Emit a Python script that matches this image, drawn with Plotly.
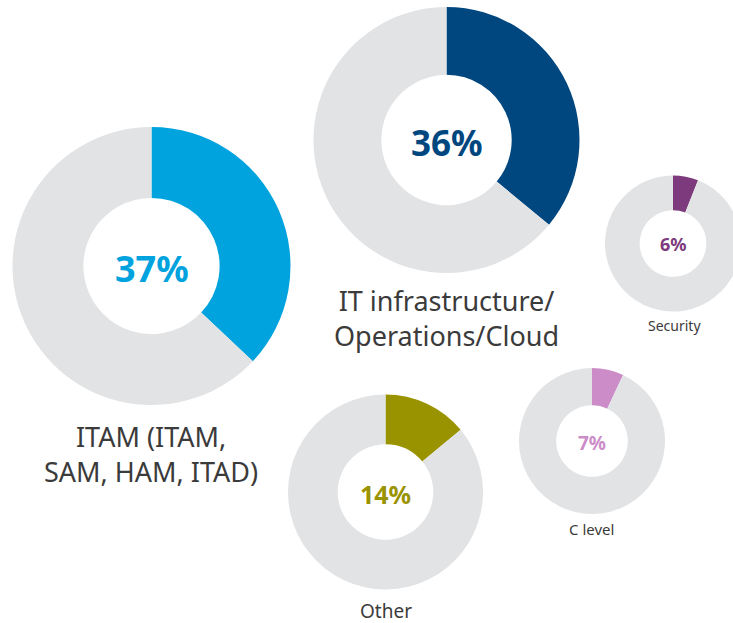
import plotly.graph_objects as go

W, H = 745, 623   # a bit wider than the 733 view so the Security ring is cut at the edge like the reference

# ---- data ----
categories = ["ITAM (ITAM, SAM, HAM, ITAD)", "IT infrastructure/Operations/Cloud",
              "Security", "C level", "Other"]
shares = [37, 36, 6, 7, 14]
pct_labels = ["37%", "36%", "6%", "7%", "14%"]
label_texts = ["ITAM (ITAM,<br>SAM, HAM, ITAD)",
               "IT infrastructure/<br>Operations/Cloud",
               "Security", "C level", "Other"]

# ---- styling / layout (pixel geometry) ----
colors = ["#00A3DE", "#00467F", "#7D3A7D", "#CC8CC8", "#9A9300"]
gray = "#E2E3E5"
centers = [(151.5, 266), (446.5, 140), (673, 243.5), (592, 441), (385.5, 492)]
radii = [139, 133, 68, 73, 97.5]
pct_sizes = [36, 35, 18, 19, 25]
pct_y = [268.5, 142.5, 244, 442.5, 493.5]
lab_sizes = [27, 27, 14, 15, 19]
lab_y = [454, 317.5, 325, 529, 611]
lab_x = [151, 446, 674, 591, 386]
text_col = "#3B3B3B"

def px_x(x):
    return min(max(x / W, 0), 1)

def px_y(y):
    return min(max(1 - y / H, 0), 1)

fig = go.Figure()
annotations = []
for i, cat in enumerate(categories):
    cx, cy = centers[i]
    r = radii[i]
    fig.add_trace(go.Pie(
        values=[shares[i], 100 - shares[i]],
        labels=[cat, "rest"],
        hole=0.49,
        sort=False,
        direction="clockwise",
        rotation=0,
        marker=dict(colors=[colors[i], gray], line=dict(width=0)),
        textinfo="none",
        hoverinfo="label+value",
        showlegend=False,
        domain=dict(x=[px_x(cx - r), px_x(cx + r)], y=[px_y(cy + r), px_y(cy - r)]),
    ))
    annotations.append(dict(
        x=cx / W, y=1 - pct_y[i] / H, xref="paper", yref="paper",
        text=pct_labels[i], showarrow=False, xanchor="center", yanchor="middle",
        font=dict(family="Noto Sans", size=pct_sizes[i], color=colors[i], weight="bold"),
    ))
    annotations.append(dict(
        x=lab_x[i] / W, y=1 - lab_y[i] / H, xref="paper", yref="paper",
        text=label_texts[i], showarrow=False, xanchor="center", yanchor="middle",
        align="center", borderpad=0,
        font=dict(family="Noto Sans", size=lab_sizes[i], color=text_col),
    ))

fig.update_layout(
    width=W, height=H,
    margin=dict(l=0, r=0, t=0, b=0),
    paper_bgcolor="white", plot_bgcolor="white",
    annotations=annotations,
)

fig.write_html(
    "out.html",
    config={"displayModeBar": False},
    post_script="document.body.style.margin='0';document.body.style.overflow='hidden';"
                "document.documentElement.style.overflow='hidden';",
)
